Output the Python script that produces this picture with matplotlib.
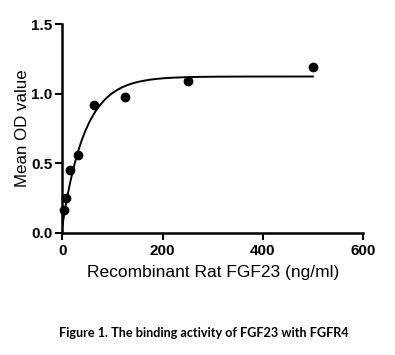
import numpy as np
import matplotlib
matplotlib.use('Agg')
import matplotlib.pyplot as plt

# concentraciones (ng/ml) y OD medida
concentracion = [3.9, 7.8, 15.6, 31.25, 62.5, 125, 250, 500]
od_medio = [0.16, 0.25, 0.45, 0.56, 0.92, 0.975, 1.09, 1.195]

# parametros del ajuste (asociacion de una fase)
y0 = 0.05
meseta = 1.123
k = 0.022

fig = plt.figure(figsize=(3.95, 3.55), dpi=100)
ax = fig.add_axes([0.158, 0.345, 0.761, 0.587])

x_ajuste = np.linspace(0, max(concentracion), 400)
y_ajuste = y0 + (meseta - y0) * (1 - np.exp(-k * x_ajuste))
ax.plot(x_ajuste, y_ajuste, color='black', lw=1.4, zorder=2)
ax.plot(concentracion, od_medio, 'o', color='black', markersize=6, zorder=3, clip_on=False)

ax.set_xlim(0, 600)
ax.set_ylim(0, 1.5)
ax.set_xticks([0, 200, 400, 600])
ax.set_yticks([0.0, 0.5, 1.0, 1.5])
ax.set_yticklabels(['0.0', '0.5', '1.0', '1.5'])

for s in ['top', 'right']:
    ax.spines[s].set_visible(False)
for s in ['left', 'bottom']:
    ax.spines[s].set_linewidth(1.8)

ax.tick_params(direction='out', length=5, width=1.5, pad=2)
ax.tick_params(axis='x', pad=3)
for lab in ax.get_xticklabels() + ax.get_yticklabels():
    lab.set_fontfamily('Liberation Sans')
    lab.set_fontweight('bold')
    lab.set_fontsize(11)

ax.set_xlabel('Recombinant Rat FGF23 (ng/ml)', fontfamily='Liberation Sans', fontsize=12.5, labelpad=5.5)
ax.set_ylabel('Mean OD value', fontfamily='Liberation Sans', fontsize=12.2, labelpad=1)

fig.text(0.515, 0.063, 'Figure 1. The binding activity of FGF23 with FGFR4', ha='center', va='center',
         fontfamily='Lato', fontweight='bold', fontsize=9.1)

fig.savefig('out.png', dpi=100)
